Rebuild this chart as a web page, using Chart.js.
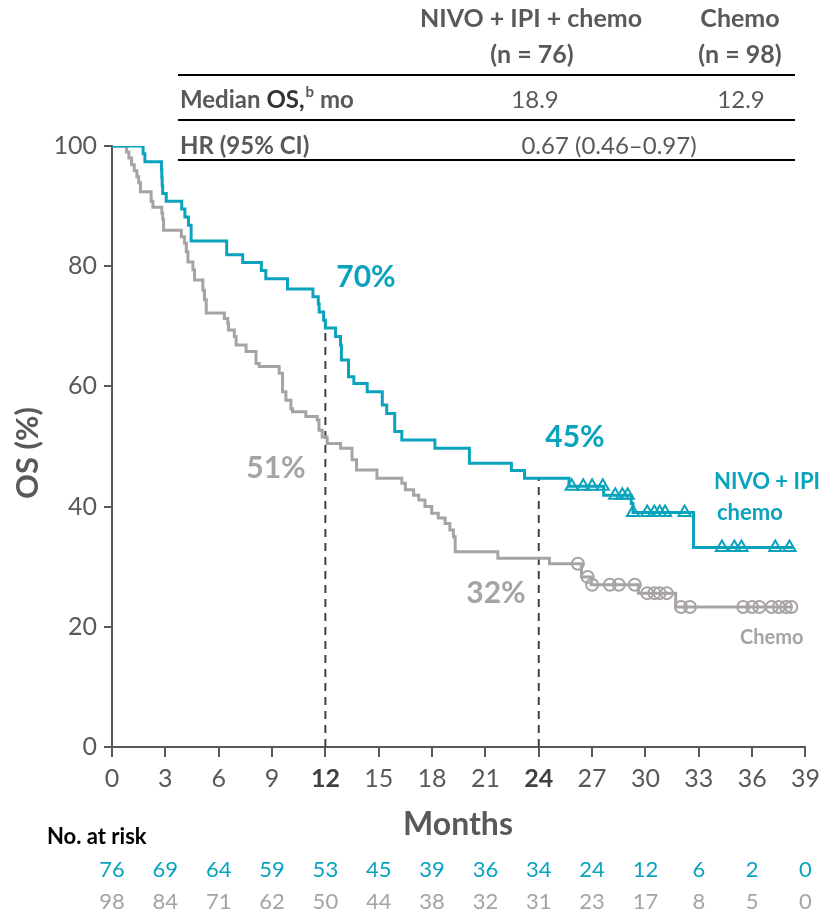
<!DOCTYPE html>
<html>
<head>
<meta charset="utf-8">
<script src="https://cdn.jsdelivr.net/npm/chart.js@4"></script>
<style>
  html, body { margin: 0; padding: 0; background: #fff; }
  #wrap { width: 827px; height: 915px; }
</style>
</head>
<body>
<div id="wrap"><canvas id="km" width="827" height="915"></canvas></div>
<script>
// Kaplan-Meier data (months, OS %)
const nivoTimes = [0, 1.75, 1.85, 2.78, 2.8, 2.82, 2.85, 3.05, 3.92, 4.1, 4.3, 4.45, 6.45, 7.35, 8.4, 8.65, 9.87,
  11.3, 11.6, 11.65, 11.9, 12.0, 12.57, 12.85, 12.9, 13.3, 13.6, 14.35, 15.2, 15.45, 15.9, 16.3, 18.16, 20.1, 22.46, 23.2,
  25.7, 27.65, 29.2, 29.3, 32.7, 38.3];
const nivoSurv = [100, 98.7, 97.4, 96.1, 94.7, 93.4, 92.1, 90.8, 89.5, 88.2, 86.8, 84.2, 81.9, 80.6, 79.3, 77.9, 76.2,
  74.9, 73.7, 72.4, 71.0, 69.7, 68.3, 66.9, 64.4, 61.6, 60.5, 59.1, 56.9, 55.5, 52.5, 51.1, 49.7, 47.2, 46.0, 44.7,
  43.4, 41.9, 40.5, 39.0, 33.2, 33.2];
const nivoCensored = [25.85, 26.5, 27.0, 27.6, 28.3, 28.7, 29.0, 29.3, 30.1, 30.5, 30.8, 31.1, 32.2, 34.3, 35.0, 35.4, 37.3, 38.1];

const chemoTimes = [0, 0.82, 0.95, 1.1, 1.25, 1.4, 1.5, 1.6, 2.2, 2.3, 2.8, 2.85, 2.9, 3.9, 4.08, 4.18, 4.27, 4.55, 4.64,
  5.11, 5.2, 5.3, 6.32, 6.51, 6.55, 6.88, 6.98, 7.54, 8.1, 8.28, 9.4, 9.59, 9.78, 10.06, 10.15, 10.9, 11.54, 11.64, 11.82,
  12.1, 12.85, 13.5, 13.75, 14.9, 16.3, 16.5, 16.96, 17.25, 17.6, 17.98, 18.35, 18.73, 19.0, 19.2, 19.3, 21.7, 24.6,
  26.4, 26.95, 29.6, 31.7, 38.2];
const chemoSurv = [100, 99.0, 98.0, 96.9, 95.9, 94.9, 93.9, 92.4, 90.8, 89.8, 88.8, 87.8, 86.0, 84.9, 83.8, 82.4, 80.7, 79.4, 77.7,
  76.0, 74.4, 72.2, 71.3, 70.5, 69.4, 68.3, 66.9, 65.8, 63.8, 63.3, 62.2, 59.1, 57.7, 56.3, 55.8, 55.0, 54.4, 52.7, 51.6,
  50.5, 49.7, 47.8, 46.1, 44.7, 43.9, 42.8, 41.9, 41.1, 40.0, 38.9, 38.1, 37.2, 36.1, 35.0, 32.5, 31.4, 30.5,
  28.3, 27.0, 25.6, 23.3, 23.3];
const chemoCensored = [26.2, 26.75, 27.0, 28.0, 28.5, 29.4, 30.1, 30.5, 30.8, 31.2, 32.0, 32.5, 35.5, 36.0, 36.4, 37.1, 37.5, 37.9, 38.2];

const landmarkMonths = [12, 24];
const riskMonths = [0, 3, 6, 9, 12, 15, 18, 21, 24, 27, 30, 33, 36, 39];
const nivoRisk = [76, 69, 64, 59, 53, 45, 39, 36, 34, 24, 12, 6, 2, 0];
const chemoRisk = [98, 84, 71, 62, 50, 44, 38, 32, 31, 23, 17, 8, 5, 0];

const TEAL = '#0aa3bd';
const GREY = '#a8a3a3';
const TEXT = '#595959';
const FONT = 'Lato, "Open Sans", sans-serif';

// survival value at time t from a step curve
function survAt(times, surv, t) {
    let v = surv[0];
    for (let i = 0; i < times.length; i++) {
        if (times[i] <= t) v = surv[i];
    }
    return v;
}

function toPoints(times, surv) {
    return times.map((t, i) => ({ x: t, y: surv[i] }));
}

function censorPoints(times, surv, cens) {
    return cens.map(t => ({ x: t, y: survAt(times, surv, t) }));
}

function landmarkLine(t) {
    return [{ x: t, y: 0 }, { x: t, y: survAt(nivoTimes, nivoSurv, t) }];
}

// texts, table and risk rows
const overlayPlugin = {
    id: 'overlay',
    afterDraw(chart) {
        const ctx = chart.ctx;
        const xs = chart.scales.x;
        ctx.save();
        ctx.textBaseline = 'middle';

        // table rules
        ctx.strokeStyle = '#000';
        ctx.lineWidth = 2;
        [75, 120, 160].forEach(y => {
            ctx.beginPath();
            ctx.moveTo(178, y);
            ctx.lineTo(795, y);
            ctx.stroke();
        });

        ctx.fillStyle = TEXT;
        ctx.textAlign = 'center';
        ctx.font = 'bold 25px ' + FONT;
        ctx.fillText('NIVO + IPI + chemo', 531, 19);
        ctx.fillText('(n = 76)', 532, 55);
        ctx.fillText('Chemo', 740, 19);
        ctx.fillText('(n = 98)', 740, 55);

        ctx.textAlign = 'left';
        ctx.font = 'bold 24px ' + FONT;
        let x = 180;
        ctx.fillText('Median ', x, 100);
        x += ctx.measureText('Median ').width;
        ctx.fillStyle = '#333';
        ctx.fillText('OS,', x, 100);
        x += ctx.measureText('OS,').width;
        ctx.fillStyle = TEXT;
        ctx.font = 'bold 15px ' + FONT;
        ctx.fillText('b', x + 1, 92);
        x += ctx.measureText('b').width + 1;
        ctx.font = 'bold 24px ' + FONT;
        ctx.fillText(' mo', x, 100);
        ctx.fillText('HR (95% CI)', 180, 146);

        ctx.textAlign = 'center';
        ctx.font = '24px ' + FONT;
        ctx.fillText('18.9', 535, 100);
        ctx.fillText('12.9', 741, 100);
        ctx.fillText('0.67 (0.46\u20130.97)', 609, 146);

        // axis titles
        ctx.font = 'bold 32px ' + FONT;
        ctx.fillText('Months', 458, 825);
        ctx.save();
        ctx.translate(28, 453);
        ctx.rotate(-Math.PI / 2);
        ctx.font = 'bold 31px ' + FONT;
        ctx.fillText('OS (%)', 0, 0);
        ctx.restore();

        // landmark labels
        ctx.font = 'bold 30px ' + FONT;
        ctx.fillStyle = TEAL;
        ctx.fillText('70%', 366, 277);
        ctx.fillText('45%', 575, 437);
        ctx.fillStyle = GREY;
        ctx.fillText('51%', 276, 468);
        ctx.fillText('32%', 496, 593);

        // curve labels
        ctx.textAlign = 'left';
        ctx.font = 'bold 22px ' + FONT;
        ctx.fillStyle = TEAL;
        ctx.fillText('NIVO + IPI', 714, 482);
        ctx.fillText('chemo', 717, 513);
        ctx.fillStyle = GREY;
        ctx.font = 'bold 20px ' + FONT;
        ctx.fillText('Chemo', 740, 638);

        // number at risk
        ctx.fillStyle = '#000';
        ctx.font = 'bold 22px ' + FONT;
        ctx.fillText('No. at risk', 47, 837);
        ctx.textAlign = 'center';
        ctx.font = '22px ' + FONT;
        riskMonths.forEach((m, i) => {
            const px = xs.getPixelForValue(m);
            ctx.fillStyle = TEAL;
            ctx.fillText(String(nivoRisk[i]), px, 870);
            ctx.fillStyle = GREY;
            ctx.fillText(String(chemoRisk[i]), px, 902);
        });
        ctx.restore();
    }
};

const boldTick = c => c.tick && (c.tick.value === 12 || c.tick.value === 24);

new Chart(document.getElementById('km'), {
    type: 'line',
    data: {
        datasets: [
            {
                data: toPoints(nivoTimes, nivoSurv),
                borderColor: TEAL, borderWidth: 3, stepped: 'before',
                pointRadius: 0, fill: false
            },
            {
                data: toPoints(chemoTimes, chemoSurv),
                borderColor: GREY, borderWidth: 3, stepped: 'before',
                pointRadius: 0, fill: false
            },
            {
                data: censorPoints(nivoTimes, nivoSurv, nivoCensored),
                showLine: false, pointStyle: 'triangle', pointRadius: 7,
                pointBorderWidth: 2, pointBorderColor: TEAL, pointBackgroundColor: 'rgba(0,0,0,0)'
            },
            {
                data: censorPoints(chemoTimes, chemoSurv, chemoCensored),
                showLine: false, pointStyle: 'circle', pointRadius: 6,
                pointBorderWidth: 2, pointBorderColor: GREY, pointBackgroundColor: 'rgba(0,0,0,0)'
            },
            ...landmarkMonths.map(m => ({
                data: landmarkLine(m),
                borderColor: '#404040', borderWidth: 2, borderDash: [8, 6],
                pointRadius: 0, fill: false
            }))
        ]
    },
    options: {
        responsive: false,
        animation: false,
        layout: { padding: { top: 146, right: 18, left: 0, bottom: 0 } },
        plugins: { legend: { display: false }, tooltip: { enabled: false } },
        scales: {
            x: {
                type: 'linear', min: 0, max: 39,
                afterFit: s => { s.height = 168; },
                ticks: {
                    stepSize: 3, autoSkip: false, maxRotation: 0, padding: 7,
                    color: c => boldTick(c) ? '#404040' : TEXT,
                    font: c => ({ family: FONT, size: 25, weight: boldTick(c) ? 'bold' : 'normal' })
                },
                grid: { drawOnChartArea: false, drawTicks: true, tickLength: 10, color: TEXT, lineWidth: 2 },
                border: { color: TEXT, width: 2 }
            },
            y: {
                min: 0, max: 100,
                afterFit: s => { s.width = 112; },
                ticks: { stepSize: 20, padding: 7, color: TEXT, font: { family: FONT, size: 25 } },
                grid: { drawOnChartArea: false, drawTicks: true, tickLength: 8, color: TEXT, lineWidth: 2 },
                border: { color: TEXT, width: 2 }
            }
        }
    },
    plugins: [overlayPlugin]
});
</script>
</body>
</html>
